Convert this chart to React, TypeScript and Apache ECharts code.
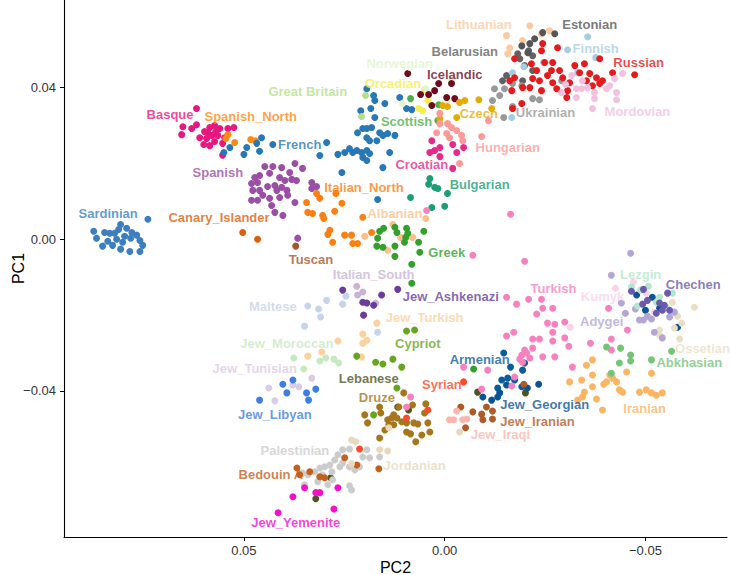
import React, { useEffect, useRef } from "react";
import * as echarts from "echarts";

// ---- tick values ----
const xTickValues = [-0.05, 0, 0.05];
const yTickValues = [-0.04, 0, 0.04];

// ---- population points: [PC2, PC1] ----
const sardinian = [[0.0739,0.0053],[0.0807,0.0039],[0.0792,0.0029],[0.0874,0.0021],[0.0847,0.0018],[0.0834,0.0016],[0.0822,0.0016],[0.0779,0.0018],[0.0767,0.0011],[0.0867,0.0003],[0.0839,-0.0005],[0.0817,0.0],[0.0802,-0.0008],[0.0759,-0.0003],[0.0752,-0.0016],[0.0852,-0.0018],[0.0807,-0.0026],[0.0784,-0.0032],[0.0759,-0.0032],[0.0797,0.0008],[0.0827,-0.0016],[0.0812,0.0026],[0.0782,0.0003]];
const basque = [[0.0618,0.0345],[0.0652,0.0297],[0.0655,0.0276],[0.0630,0.0292],[0.0618,0.0302],[0.0598,0.0284],[0.0585,0.0295],[0.0573,0.0300],[0.0560,0.0292],[0.0540,0.0292],[0.0525,0.0295],[0.0610,0.0268],[0.0593,0.0266],[0.0580,0.0274],[0.0565,0.0274],[0.0548,0.0268],[0.0573,0.0258],[0.0600,0.0250],[0.0585,0.0247],[0.0553,0.0253],[0.0553,0.0222],[0.0590,0.0281],[0.0570,0.0284]];
const spanishNorth = [[0.0540,0.0276],[0.0523,0.0255],[0.0483,0.0263],[0.0471,0.0260],[0.0545,0.0266]];
const french = [[0.0550,0.0229],[0.0535,0.0242],[0.0500,0.0224],[0.0493,0.0242],[0.0468,0.0253],[0.0456,0.0268],[0.0461,0.0232],[0.0428,0.0250],[0.0294,0.0255],[0.0311,0.0221],[0.0266,0.0224],[0.0256,0.0176],[0.0249,0.0229],[0.0237,0.0239],[0.0229,0.0229],[0.0219,0.0234],[0.0207,0.0229],[0.0194,0.0234],[0.0187,0.0226],[0.0204,0.0216],[0.0194,0.0208],[0.0217,0.0281],[0.0204,0.0292],[0.0194,0.0292],[0.0182,0.0295],[0.0162,0.0281],[0.0154,0.0274],[0.0142,0.0279],[0.0124,0.0274],[0.0194,0.0268],[0.0187,0.0260],[0.0169,0.0260],[0.0209,0.0339],[0.0184,0.0345],[0.0194,0.0397],[0.0177,0.0379],[0.0174,0.0366],[0.0149,0.0358],[0.0112,0.0374],[0.0095,0.0345],[0.0082,0.0342],[0.0137,0.0229],[0.0154,0.0189],[0.0167,0.0105],[0.0174,0.0321]];
const greatBritain = [[0.0197,0.0379],[0.0207,0.0324]];
const scottish = [[0.0085,0.0371],[0.0015,0.0355],[0.0017,0.0313]];
const orcadian = [[0.0042,0.0366],[0.0065,0.0345],[0.0055,0.0339],[0.0050,0.0395]];
const norwegian = [[0.0105,0.0358],[-0.0017,0.0418],[-0.0007,0.0366],[0.0047,0.0397]];
const icelandic = [[0.0092,0.0437],[0.0060,0.0382],[0.0040,0.0382],[0.0025,0.0392],[0.0015,0.0411],[-0.0017,0.0411],[-0.0005,0.0374],[-0.0025,0.0371],[0.0032,0.0353]];
const czech = [[0.0005,0.0353],[-0.0007,0.0350],[-0.0037,0.0361],[-0.0050,0.0366],[-0.0030,0.0321],[0.0012,0.0318],[-0.0085,0.0368],[-0.0117,0.0345]];
const hungarian = [[0.0012,0.0305],[-0.0007,0.0305],[-0.0017,0.0295],[-0.0005,0.0279],[-0.0012,0.0268],[-0.0042,0.0274],[-0.0045,0.0260],[-0.0092,0.0271],[-0.0030,0.0287],[-0.0037,0.0200],[0.0012,0.0332],[0.0020,0.0281],[-0.0109,0.0313]];
const croatian = [[0.0032,0.0260],[0.0012,0.0242],[0.0037,0.0229],[0.0025,0.0234],[0.0012,0.0218],[-0.0020,0.0250],[-0.0030,0.0229],[-0.0047,0.0242],[-0.0020,0.0187]];
const bulgarian = [[0.0037,0.0160],[0.0025,0.0137],[0.0040,0.0145],[0.0017,0.0134],[-0.0007,0.0121],[0.0085,0.0110],[0.0032,0.0084],[0.0,0.0087]];
const lithuanian = [[-0.0212,0.0563],[-0.0241,0.0542],[-0.0154,0.0537],[-0.0162,0.0505],[-0.0157,0.0489],[-0.0261,0.0550],[-0.0194,0.0524]];
const estonian = [[-0.0244,0.0545],[-0.0274,0.0542],[-0.0224,0.0529],[-0.0212,0.0516],[-0.0192,0.0510],[-0.0207,0.0492]];
const belarusian = [[-0.0187,0.0476],[-0.0199,0.0458],[-0.0219,0.0445],[-0.0194,0.0418],[-0.0182,0.0489],[-0.0209,0.0497],[-0.0219,0.0484],[-0.0154,0.0432],[-0.0144,0.0418]];
const ukrainian = [[-0.0124,0.0397],[-0.0119,0.0366],[-0.0147,0.0321],[-0.0169,0.0350],[-0.0137,0.0379],[-0.0219,0.0371],[-0.0236,0.0368],[-0.0291,0.0418],[-0.0192,0.0405],[-0.0169,0.0411],[-0.0149,0.0397]];
const russian = [[-0.0244,0.0516],[-0.0241,0.0497],[-0.0281,0.0505],[-0.0174,0.0476],[-0.0216,0.0463],[-0.0229,0.0445],[-0.0269,0.0466],[-0.0266,0.0445],[-0.0286,0.0445],[-0.0294,0.0426],[-0.0269,0.0413],[-0.0219,0.0424],[-0.0236,0.0418],[-0.0212,0.0400],[-0.0241,0.0392],[-0.0192,0.0358],[-0.0174,0.0426],[-0.0167,0.0392],[-0.0306,0.0392],[-0.0304,0.0374],[-0.0348,0.0463],[-0.0336,0.0439],[-0.0361,0.0437],[-0.0353,0.0418],[-0.0378,0.0426],[-0.0386,0.0411],[-0.0368,0.0405],[-0.0393,0.0418],[-0.0386,0.0476],[-0.0418,0.0439],[-0.0473,0.0434],[-0.0162,0.0418],[-0.0194,0.0400],[-0.0249,0.0466],[-0.0256,0.0432],[-0.0279,0.0397],[-0.0169,0.0345],[-0.0311,0.0413],[-0.0324,0.0458]];
const finnish = [[-0.0356,0.0534],[-0.0306,0.0500],[-0.0376,0.0479],[-0.0246,0.0466],[-0.0197,0.0455],[-0.0169,0.0439],[-0.0331,0.0439],[-0.0167,0.0321]];
const mordovian = [[-0.0316,0.0432],[-0.0343,0.0418],[-0.0328,0.0397],[-0.0341,0.0397],[-0.0291,0.0387],[-0.0328,0.0374],[-0.0373,0.0387],[-0.0373,0.0371],[-0.0368,0.0345],[-0.0403,0.0397],[-0.0411,0.0405],[-0.0428,0.0387],[-0.0428,0.0368],[-0.0423,0.0424],[-0.0443,0.0437],[-0.0356,0.0400],[-0.0301,0.0408]];
const spanish = [[0.0448,0.0192],[0.0428,0.0192],[0.0406,0.0189],[0.0373,0.0200],[0.0354,0.0187],[0.0473,0.0163],[0.0461,0.0168],[0.0436,0.0174],[0.0411,0.0163],[0.0398,0.0155],[0.0381,0.0158],[0.0369,0.0155],[0.0481,0.0147],[0.0466,0.0150],[0.0441,0.0139],[0.0423,0.0142],[0.0406,0.0137],[0.0331,0.0150],[0.0319,0.0139],[0.0478,0.0129],[0.0461,0.0129],[0.0418,0.0129],[0.0393,0.0129],[0.0331,0.0134],[0.0481,0.0103],[0.0466,0.0103],[0.0436,0.0108],[0.0411,0.0110],[0.0391,0.0116],[0.0373,0.0097],[0.0431,0.0089],[0.0423,0.0071],[0.0403,0.0063],[0.0366,0.0003],[0.0453,0.0116],[0.0386,0.0176]];
const canaryIslander = [[0.0503,0.0018],[0.0466,0.0]];
const tuscan = [[0.0371,-0.0018]];
const italianNorth = [[0.0319,0.0121],[0.0311,0.0108],[0.0344,0.0097],[0.0329,0.0068],[0.0304,0.0063],[0.0274,0.0074],[0.0256,0.0095],[0.0271,0.0121],[0.0286,0.0024],[0.0291,0.0013],[0.0279,-0.0008],[0.0249,0.0011],[0.0232,0.0011],[0.0217,-0.0011],[0.0229,-0.0011],[0.0204,0.0058],[0.0182,0.0018],[0.0341,0.0071],[0.0301,0.0055]];
const albanian = [[0.0129,0.0039],[0.0110,0.0005],[0.0080,0.0005],[0.0142,-0.0029],[0.0199,0.0008],[0.0047,0.0055]];
const greek = [[0.0162,0.0021],[0.0152,0.0029],[0.0124,0.0032],[0.0119,0.0018],[0.0095,0.0029],[0.0092,0.0016],[0.0097,0.0005],[0.0065,-0.0008],[0.0052,0.0021],[0.0167,0.0003],[0.0169,-0.0018],[0.0154,-0.0021],[0.0124,-0.0018],[0.0124,-0.0045],[0.0062,-0.0034],[0.0082,-0.0066],[0.0082,-0.0116],[0.0100,-0.0008],[-0.0072,-0.0342]];
const italianSouth = [[0.0219,-0.0124],[0.0204,-0.0139],[0.0217,-0.0147],[0.0172,-0.0168]];
const jewAshkenazi = [[0.0254,-0.0134],[0.0117,-0.0132],[0.0157,-0.0147],[0.0204,-0.0166],[0.0194,-0.0168],[0.0177,-0.0174],[0.0202,-0.0200]];
const maltese = [[0.0341,-0.0176],[0.0294,-0.0161],[0.0314,-0.0184],[0.0309,-0.0205],[0.0254,-0.0171],[0.0349,-0.0229],[0.0246,-0.0150],[0.0167,-0.0245]];
const jewTurkish = [[0.0169,-0.0221],[0.0204,-0.0250],[0.0194,-0.0266],[0.0204,-0.0274],[0.0266,-0.0268],[0.0306,-0.0297],[0.0341,-0.0308],[0.0207,-0.0310]];
const jewMoroccan = [[0.0376,-0.0313],[0.0351,-0.0342],[0.0311,-0.0321],[0.0296,-0.0313],[0.0276,-0.0316],[0.0264,-0.0326]];
const jewTunisian = [[0.0331,-0.0366],[0.0438,-0.0392],[0.0378,-0.0384],[0.0363,-0.0389],[0.0423,-0.0426]];
const jewLibyan = [[0.0461,-0.0424],[0.0403,-0.0382],[0.0378,-0.0371],[0.0393,-0.0405],[0.0344,-0.0405],[0.0321,-0.0395],[0.0339,-0.0424]];
const cypriot = [[0.0095,-0.0242],[0.0075,-0.0239],[0.0219,-0.0308],[0.0172,-0.0324],[0.0154,-0.0329],[0.0129,-0.0316],[0.0107,-0.0337],[0.0119,-0.0392],[0.0177,-0.0463]];
const lebanese = [[0.0117,-0.0442],[0.0090,-0.0450],[-0.0082,-0.0403],[-0.0201,-0.0405],[0.0284,-0.0629],[0.0321,-0.0684]];
const druze = [[0.0102,-0.0405],[0.0080,-0.0437],[0.0047,-0.0434],[0.0199,-0.0463],[0.0162,-0.0442],[0.0159,-0.0458],[0.0192,-0.0484],[0.0142,-0.0476],[0.0132,-0.0471],[0.0119,-0.0471],[0.0107,-0.0481],[0.0139,-0.0489],[0.0127,-0.0489],[0.0095,-0.0484],[0.0077,-0.0484],[0.0067,-0.0487],[0.0050,-0.0458],[0.0042,-0.0484],[0.0037,-0.0508],[0.0095,-0.0508],[0.0085,-0.0513],[0.0057,-0.0516],[0.0162,-0.0524],[0.0072,-0.0534],[0.0127,-0.0463],[0.0114,-0.0442],[0.0149,-0.0503]];
const syrian = [[-0.0047,-0.0376],[0.0042,-0.0450],[0.0095,-0.0471],[0.0212,-0.0553]];
const palestinian = [[0.0254,-0.0555],[0.0237,-0.0553],[0.0274,-0.0582],[0.0286,-0.0595],[0.0299,-0.0600],[0.0311,-0.0603],[0.0324,-0.0613],[0.0304,-0.0621],[0.0281,-0.0613],[0.0261,-0.0600],[0.0254,-0.0590],[0.0237,-0.0600],[0.0224,-0.0608],[0.0217,-0.0595],[0.0194,-0.0555],[0.0204,-0.0574],[0.0187,-0.0576],[0.0162,-0.0574],[0.0354,-0.0616],[0.0341,-0.0621],[0.0349,-0.0647],[0.0291,-0.0647],[0.0237,-0.0650],[0.0232,-0.0661],[0.0279,-0.0634],[0.0316,-0.0639],[0.0212,-0.0600],[0.0266,-0.0568]];
const bedouinA = [[0.0336,-0.0613],[0.0311,-0.0626],[0.0299,-0.0629],[0.0249,-0.0576],[0.0219,-0.0595],[0.0164,-0.0605],[0.0361,-0.0621],[0.0368,-0.0603]];
const jewYemenite = [[0.0349,-0.0655],[0.0321,-0.0668],[0.0311,-0.0668],[0.0266,-0.0655],[0.0276,-0.0711],[0.0415,-0.0721],[0.0378,-0.0679]];
const jordanian = [[0.0232,-0.0529],[0.0222,-0.0534],[0.0162,-0.0555],[0.0142,-0.0558],[0.0139,-0.0497],[0.0232,-0.0592],[-0.0037,-0.0508]];
const armenian = [[-0.0147,-0.0300],[-0.0164,-0.0337],[-0.0194,-0.0345],[-0.0199,-0.0326],[-0.0142,-0.0371],[-0.0157,-0.0366],[-0.0132,-0.0392],[-0.0174,-0.0371],[-0.0192,-0.0389]];
const jewGeorgian = [[-0.0095,-0.0416],[-0.0117,-0.0424],[-0.0132,-0.0416],[-0.0137,-0.0405],[-0.0234,-0.0382],[-0.0206,-0.0392],[-0.0154,-0.0384],[-0.0478,-0.0147],[-0.0517,-0.0153],[-0.0500,-0.0187],[-0.0535,-0.0182],[-0.0580,-0.0232]];
const jewIranian = [[-0.0040,-0.0442],[-0.0070,-0.0455],[-0.0092,-0.0461],[-0.0095,-0.0476],[-0.0119,-0.0453],[-0.0119,-0.0474],[-0.0052,-0.0497],[-0.0104,-0.0442],[-0.0197,-0.0382]];
const jewIraqi = [[-0.0030,-0.0453],[-0.0022,-0.0476],[-0.0045,-0.0476],[-0.0055,-0.0474],[-0.0012,-0.0476]];
const turkish = [[-0.0164,0.0066],[-0.0199,-0.0058],[-0.0070,-0.0042],[-0.0154,-0.0153],[-0.0179,-0.0171],[-0.0209,-0.0158],[-0.0241,-0.0158],[-0.0269,-0.0182],[-0.0244,-0.0182],[-0.0229,-0.0197],[-0.0256,-0.0221],[-0.0274,-0.0224],[-0.0299,-0.0218],[-0.0269,-0.0245],[-0.0269,-0.0268],[-0.0299,-0.0260],[-0.0309,-0.0282],[-0.0219,-0.0263],[-0.0236,-0.0263],[-0.0172,-0.0245],[-0.0154,-0.0255],[-0.0363,-0.0274],[-0.0219,-0.0287],[-0.0199,-0.0292],[-0.0192,-0.0305],[-0.0204,-0.0300],[-0.0212,-0.0313],[-0.0187,-0.0316],[-0.0194,-0.0324],[-0.0244,-0.0310],[-0.0274,-0.0310],[-0.0318,-0.0337],[-0.0174,-0.0363],[-0.0167,-0.0387],[-0.0092,-0.0395],[-0.0047,-0.0337],[-0.0107,-0.0345],[0.0095,-0.0442],[0.0085,-0.0416],[-0.0455,-0.0239],[-0.0408,-0.0182],[-0.0415,-0.0292],[-0.0415,-0.0263],[0.0045,0.0076]];
const kumyk = [[-0.0425,-0.0129],[-0.0313,-0.0232],[-0.0470,-0.0113],[-0.0502,-0.0142],[-0.0522,-0.0192]];
const lezgin = [[-0.0465,-0.0126],[-0.0488,-0.0134],[-0.0507,-0.0124],[-0.0527,-0.0166],[-0.0567,-0.0142],[-0.0552,-0.0179],[-0.0480,-0.0176],[-0.0535,-0.0153]];
const chechen = [[-0.0465,-0.0137],[-0.0495,-0.0132],[-0.0505,-0.0161],[-0.0535,-0.0168],[-0.0547,-0.0174],[-0.0555,-0.0142],[-0.0542,-0.0187],[-0.0493,-0.0171],[-0.0527,-0.0195],[-0.0560,-0.0187]];
const adygei = [[-0.0463,-0.0037],[-0.0415,-0.0095],[-0.0440,-0.0168],[-0.0450,-0.0195],[-0.0475,-0.0184],[-0.0485,-0.0213],[-0.0495,-0.0213],[-0.0515,-0.0210],[-0.0522,-0.0245],[-0.0542,-0.0260],[-0.0560,-0.0205],[-0.0572,-0.0192],[-0.0505,-0.0203]];
const ossetian = [[-0.0622,-0.0179],[-0.0567,-0.0166],[-0.0580,-0.0203],[-0.0590,-0.0221],[-0.0535,-0.0239],[-0.0535,-0.0253],[-0.0585,-0.0263],[-0.0572,-0.0234]];
const abkhasian = [[-0.0403,-0.0284],[-0.0438,-0.0287],[-0.0463,-0.0305],[-0.0435,-0.0326],[-0.0515,-0.0318],[-0.0565,-0.0295],[-0.0415,-0.0353],[-0.0463,-0.0321]];
const iranian = [[-0.0311,-0.0376],[-0.0341,-0.0371],[-0.0368,-0.0358],[-0.0368,-0.0389],[-0.0348,-0.0403],[-0.0343,-0.0416],[-0.0378,-0.0421],[-0.0393,-0.0450],[-0.0403,-0.0376],[-0.0411,-0.0358],[-0.0418,-0.0366],[-0.0428,-0.0376],[-0.0435,-0.0397],[-0.0443,-0.0403],[-0.0453,-0.0350],[-0.0485,-0.0403],[-0.0502,-0.0397],[-0.0515,-0.0405],[-0.0527,-0.0411],[-0.0542,-0.0405],[-0.0515,-0.0353],[-0.0368,-0.0318],[-0.0353,-0.0332],[-0.0331,-0.0424],[-0.0396,-0.0382]];

// ---- populations: name, colour, points, label anchor [PC2, PC1] ----
const populations = [
  { name: "Sardinian", color: "#3b7fbf", points: sardinian, label: [0.0838, 0.0068] },
  { name: "Basque", color: "#e8177f", points: basque, label: [0.0684, 0.0329] },
  { name: "Spanish_North", color: "#fb8a12", points: spanishNorth, label: [0.0483, 0.0324] },
  { name: "French", color: "#2878b5", points: french, label: [0.0361, 0.0250] },
  { name: "Spanish", color: "#9b4ea5", points: spanish, label: [0.0565, 0.0176] },
  { name: "Canary_Islander", color: "#db5f0a", points: canaryIslander, label: [0.0562, 0.0058] },
  { name: "Tuscan", color: "#a65628", points: tuscan, label: [0.0333, -0.0053] },
  { name: "Italian_North", color: "#fb8010", points: italianNorth, label: [0.0201, 0.0137] },
  { name: "Albanian", color: "#fdbf8a", points: albanian, label: [0.0124, 0.0068] },
  { name: "Greek", color: "#33a02c", points: greek, label: [-0.0005, -0.0034] },
  { name: "Bulgarian", color: "#1b9e77", points: bulgarian, label: [-0.0087, 0.0145] },
  { name: "Italian_South", color: "#cab2d6", points: italianSouth, label: [0.0177, -0.0092] },
  { name: "Jew_Ashkenazi", color: "#6a3d9a", points: jewAshkenazi, label: [-0.0015, -0.0150] },
  { name: "Maltese", color: "#c6d4ea", points: maltese, label: [0.0428, -0.0176] },
  { name: "Jew_Turkish", color: "#fdd09c", points: jewTurkish, label: [0.0050, -0.0205] },
  { name: "Jew_Moroccan", color: "#c7e9c0", points: jewMoroccan, label: [0.0393, -0.0274] },
  { name: "Cypriot", color: "#66a61e", points: cypriot, label: [0.0067, -0.0276] },
  { name: "Jew_Tunisian", color: "#dccbe4", points: jewTunisian, label: [0.0473, -0.0342] },
  { name: "Jew_Libyan", color: "#3c7ee6", points: jewLibyan, label: [0.0423, -0.0461] },
  { name: "Lebanese", color: "#4f5320", points: lebanese, label: [0.0189, -0.0368] },
  { name: "Druze", color: "#a6761d", points: druze, label: [0.0169, -0.0416] },
  { name: "Syrian", color: "#fa4b28", points: syrian, label: [0.0007, -0.0384] },
  { name: "Palestinian", color: "#cccccc", points: palestinian, label: [0.0373, -0.0558] },
  { name: "Bedouin A", color: "#c4601e", points: bedouinA, label: [0.0433, -0.0621] },
  { name: "Jew_Yemenite", color: "#f50fc8", points: jewYemenite, label: [0.0371, -0.0747] },
  { name: "Jordanian", color: "#e8d9bd", points: jordanian, label: [0.0075, -0.0597] },
  { name: "Armenian", color: "#0c5ba0", points: armenian, label: [-0.0087, -0.0316] },
  { name: "Jew_Georgian", color: "#0b5496", points: jewGeorgian, label: [-0.0249, -0.0436] },
  { name: "Jew_Iranian", color: "#b05a28", points: jewIranian, label: [-0.0231, -0.0480] },
  { name: "Jew_Iraqi", color: "#fbb4ae", points: jewIraqi, label: [-0.0139, -0.0516] },
  { name: "Turkish", color: "#f781bf", points: turkish, label: [-0.0271, -0.0129] },
  { name: "Iranian", color: "#fdb462", points: iranian, label: [-0.0498, -0.0445] },
  { name: "Abkhasian", color: "#74c476", points: abkhasian, label: [-0.0609, -0.0324] },
  { name: "Ossetian", color: "#ecdec4", points: ossetian, label: [-0.0642, -0.0289] },
  { name: "Adygei", color: "#b3a6d6", points: adygei, label: [-0.0391, -0.0216] },
  { name: "Kumyk", color: "#fcd2e6", points: kumyk, label: [-0.0393, -0.0150] },
  { name: "Lezgin", color: "#b3e6cc", points: lezgin, label: [-0.0488, -0.0092] },
  { name: "Chechen", color: "#6a5aad", points: chechen, label: [-0.0619, -0.0118] },
  { name: "Great Britain", color: "#b2df8a", points: greatBritain, label: [0.0341, 0.0389] },
  { name: "Orcadian", color: "#f5ee4e", points: orcadian, label: [0.0129, 0.0411] },
  { name: "Norwegian", color: "#e2f4cc", points: norwegian, label: [0.0112, 0.0463] },
  { name: "Icelandic", color: "#6e0b1e", points: icelandic, label: [-0.0025, 0.0434] },
  { name: "Scottish", color: "#4daf4a", points: scottish, label: [0.0095, 0.0311] },
  { name: "Czech", color: "#e6ab02", points: czech, label: [-0.0085, 0.0332] },
  { name: "Hungarian", color: "#fb9a99", points: hungarian, label: [-0.0157, 0.0242] },
  { name: "Croatian", color: "#e7298a", points: croatian, label: [0.0057, 0.0197] },
  { name: "Lithuanian", color: "#fdc9a0", points: lithuanian, label: [-0.0085, 0.0566] },
  { name: "Belarusian", color: "#616161", points: belarusian, label: [-0.0050, 0.0495] },
  { name: "Estonian", color: "#555555", points: estonian, label: [-0.0361, 0.0566] },
  { name: "Ukrainian", color: "#999999", points: ukrainian, label: [-0.0251, 0.0334] },
  { name: "Finnish", color: "#a6cee3", points: finnish, label: [-0.0376, 0.0503] },
  { name: "Russian", color: "#e41a1c", points: russian, label: [-0.0483, 0.0466] },
  { name: "Mordovian", color: "#f2c1e0", points: mordovian, label: [-0.0480, 0.0337] },
];

const FONT = "'Liberation Sans', Arial, Helvetica, sans-serif";

const fmt = (v: number) => {
  if (Math.abs(v) < 1e-9) return "0.00";
  return (v < 0 ? "\u2212" : "") + Math.abs(v).toFixed(2);
};

export default function App() {
  const ref = useRef<HTMLDivElement>(null);
  useEffect(() => {
    if (!ref.current) return;
    const chart = echarts.init(ref.current, null, { renderer: "svg" });
    const pointSeries = populations.map((p) => ({
      type: "scatter",
      name: p.name,
      data: p.points,
      symbolSize: 7,
      itemStyle: { color: p.color, opacity: 1 },
      silent: true,
      z: 2,
    }));
    const labelSeries = {
      type: "scatter",
      name: "labels",
      symbolSize: 1,
      itemStyle: { color: "rgba(0,0,0,0)" },
      silent: true,
      z: 5,
      data: populations.map((p) => ({
        name: p.name,
        value: p.label,
        label: { color: p.color },
      })),
      label: {
        show: true,
        position: "inside",
        formatter: "{b}",
        fontFamily: FONT,
        fontSize: 13,
        fontWeight: "bold",
      },
      labelLayout: { hideOverlap: false },
    };
    chart.setOption({
      animation: false,
      backgroundColor: "#ffffff",
      grid: { left: 64, right: 3, top: 0, bottom: 38, containLabel: false, outerBoundsMode: "none" },
      xAxis: {
        type: "value",
        min: -0.0703,
        max: 0.0948,
        inverse: true,
        splitLine: { show: false },
        axisLine: { onZero: false, lineStyle: { color: "#000", width: 1.1 } },
        axisTick: { show: true, length: 4, lineStyle: { color: "#000" }, customValues: xTickValues },
        axisLabel: { customValues: xTickValues, formatter: fmt, color: "#333", fontSize: 13, fontFamily: FONT, margin: 7 },
        name: "PC2",
        nameLocation: "middle",
        nameGap: 22,
        nameMoveOverlap: false,
        nameTextStyle: { fontSize: 16, color: "#000", fontFamily: FONT },
      },
      yAxis: {
        type: "value",
        min: -0.0785,
        max: 0.0631,
        splitLine: { show: false },
        axisLine: { onZero: false, lineStyle: { color: "#000", width: 1.1 } },
        axisTick: { show: true, length: 4, lineStyle: { color: "#000" }, customValues: yTickValues },
        axisLabel: { customValues: yTickValues, formatter: fmt, color: "#333", fontSize: 13, fontFamily: FONT, margin: 8 },
        name: "PC1",
        nameLocation: "middle",
        nameGap: 38,
        nameMoveOverlap: false,
        nameTextStyle: { fontSize: 16, color: "#000", fontFamily: FONT },
      },
      series: [...pointSeries, labelSeries],
    });
    return () => chart.dispose();
  }, []);
  return (
    <div
      ref={ref}
      style={{ position: "fixed", left: 0, top: 0, width: 730, height: 575, background: "#fff" }}
    />
  );
}
